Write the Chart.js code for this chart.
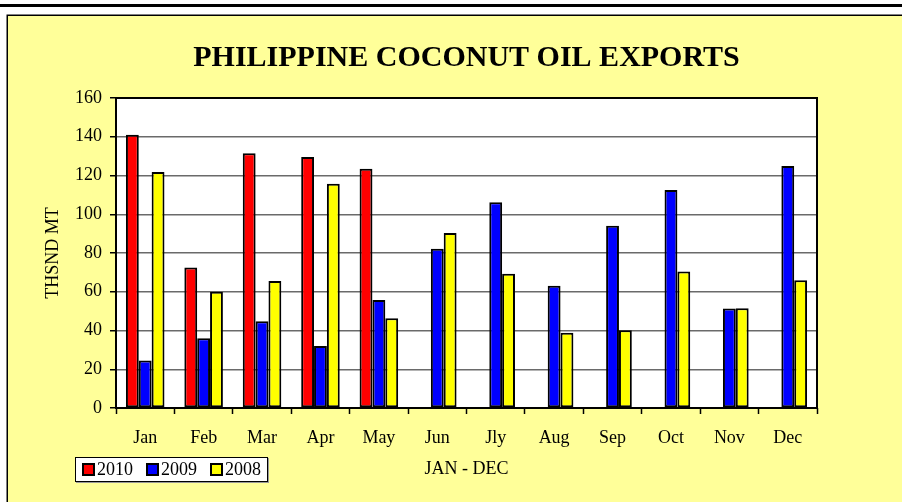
<!DOCTYPE html>
<html>
<head>
<meta charset="utf-8">
<script src="https://cdn.jsdelivr.net/npm/chart.js@4/dist/chart.umd.min.js"></script>
<style>
  html, body { margin: 0; padding: 0; background: #ffffff; overflow: hidden; }
  #wrap { position: relative; width: 902px; height: 502px; }
  #c { position: absolute; left: 0; top: 0; width: 902px; height: 502px; }
  #legend {
    position: absolute; left: 75px; top: 457px; width: 193px; height: 25px;
    background: #ffffff; border: 1px solid #000; box-shadow: 1px 1px 0 #9a9a9a;
    font-family: "Liberation Serif", "Times New Roman", serif; font-size: 18px;
    display: flex; align-items: center; padding-left: 6px; box-sizing: border-box;
  }
  #legend .item { display: flex; align-items: center; margin-right: 13px; }
  #legend .sw { width: 9px; height: 9px; border: 2px solid #000; margin-right: 2px; }
</style>
</head>
<body>
<div id="wrap">
  <canvas id="c" width="902" height="502"></canvas>
  <div id="legend"></div>
</div>
<script>
const months = ["Jan","Feb","Mar","Apr","May","Jun","Jly","Aug","Sep","Oct","Nov","Dec"];
const seriesNames = ["2010","2009","2008"];
const seriesColors = ["#FF0000","#0000FF","#FFFF00"];
const exports2010 = [141, 72.5, 131.5, 129.5, 123.5, null, null, null, null, null, null, null];
const exports2009 = [24.5, 36, 44.8, 32, 55.7, 82.2, 106.2, 63.1, 94.1, 112.5, 51.4, 124.9];
const exports2008 = [121.8, 60, 65.5, 115.8, 46.3, 90.3, 69.3, 38.9, 40.1, 70.5, 51.5, 65.9];
const yTicks = [0, 20, 40, 60, 80, 100, 120, 140, 160];
const chartTitle = "PHILIPPINE COCONUT OIL EXPORTS";
const yTitle = "THSND MT";
const xTitle = "JAN - DEC";

const serif = '"Liberation Serif", "Times New Roman", serif';
const seriesData = [exports2010, exports2009, exports2008];

const frame = {
  id: 'frame',
  beforeDraw(chart) {
    const ctx = chart.ctx, a = chart.chartArea;
    ctx.save();
    ctx.fillStyle = '#ffffff';
    ctx.fillRect(0, 0, chart.width, chart.height);
    ctx.fillStyle = '#000000';
    ctx.fillRect(0, 4, chart.width, 3);
    ctx.fillStyle = '#FFFF99';
    ctx.fillRect(7, 15, chart.width, chart.height);
    ctx.strokeStyle = '#000';
    ctx.lineWidth = 1.5;
    ctx.beginPath();
    ctx.moveTo(7.25, chart.height + 5);
    ctx.lineTo(7.25, 15.25);
    ctx.lineTo(chart.width + 5, 15.25);
    ctx.stroke();
    ctx.fillStyle = '#ffffff';
    ctx.fillRect(a.left, a.top, a.right - a.left, a.bottom - a.top);
    ctx.restore();
  },
  afterDatasetsDraw(chart) {
    const ctx = chart.ctx, a = chart.chartArea;
    ctx.save();
    ctx.strokeStyle = '#000';
    ctx.lineWidth = 2;
    ctx.strokeRect(a.left, a.top, a.right - a.left, a.bottom - a.top);
    ctx.restore();
  }
};

new Chart(document.getElementById('c'), {
  type: 'bar',
  data: {
    labels: months,
    datasets: seriesNames.map((n, i) => ({
      label: n,
      data: seriesData[i],
      backgroundColor: seriesColors[i],
      borderColor: '#000000',
      borderWidth: 2,
      borderSkipped: false,
      categoryPercentage: 0.66,
      barPercentage: 1.0
    }))
  },
  options: {
    responsive: false,
    animation: false,
    devicePixelRatio: 1,
    layout: { padding: { left: 0, right: 85, top: 0, bottom: 0 } },
    plugins: {
      legend: { display: false },
      tooltip: { enabled: false },
      title: {
        display: true,
        text: chartTitle,
        fullSize: false,
        color: '#000',
        font: { family: serif, size: 30, weight: 'bold', lineHeight: 1.2 },
        padding: { top: 40.5, bottom: 21.5 }
      }
    },
    scales: {
      x: {
        grid: { offset: true, drawOnChartArea: false, drawTicks: true, tickLength: 6, tickColor: '#000', tickWidth: 1.5 },
        border: { display: false },
        ticks: { color: '#000', font: { family: serif, size: 18 }, padding: 13, maxRotation: 0, autoSkip: false },
        title: { display: true, text: xTitle, color: '#000', font: { family: serif, size: 18 }, padding: { top: 0, bottom: 22 } },
        afterFit(scale) { scale.height = 94; }
      },
      y: {
        min: 0, max: 160,
        afterBuildTicks(scale) { scale.ticks = yTicks.map(v => ({ value: v })); },
        grid: { color: '#6a6a6a', lineWidth: 1.5, drawTicks: true, tickLength: 6, tickColor: '#000', tickWidth: 1.5 },
        border: { display: false },
        ticks: { color: '#000', font: { family: serif, size: 18 }, padding: 8 },
        title: { display: true, text: yTitle, color: '#000', font: { family: serif, size: 18 }, padding: { top: 42, bottom: 0 } },
        afterFit(scale) { scale.width = 116; }
      }
    }
  },
  plugins: [frame]
});

const lg = document.getElementById('legend');
seriesNames.forEach((n, i) => {
  const it = document.createElement('span');
  it.className = 'item';
  const sw = document.createElement('span');
  sw.className = 'sw';
  sw.style.background = seriesColors[i];
  const tx = document.createElement('span');
  tx.textContent = n;
  it.appendChild(sw); it.appendChild(tx);
  lg.appendChild(it);
});
</script>
</body>
</html>
